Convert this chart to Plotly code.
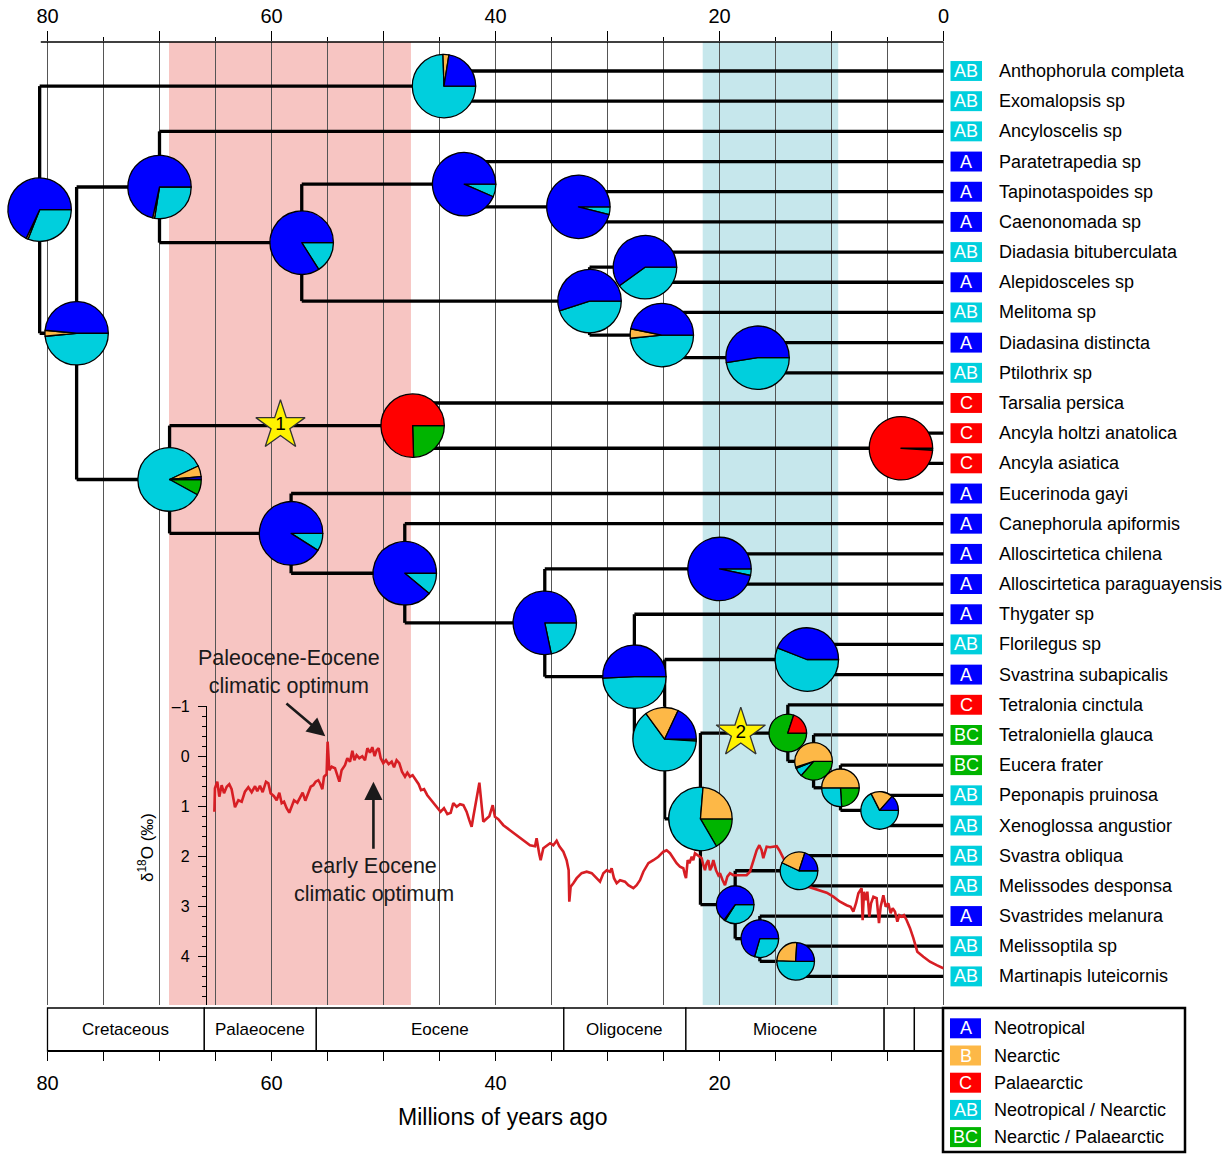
import plotly.graph_objects as go

# ---------------- data ----------------
taxa = ["Anthophorula completa", "Exomalopsis sp", "Ancyloscelis sp", "Paratetrapedia sp",
        "Tapinotaspoides sp", "Caenonomada sp", "Diadasia bituberculata", "Alepidosceles sp",
        "Melitoma sp", "Diadasina distincta", "Ptilothrix sp", "Tarsalia persica",
        "Ancyla holtzi anatolica", "Ancyla asiatica", "Eucerinoda gayi", "Canephorula apiformis",
        "Alloscirtetica chilena", "Alloscirtetica paraguayensis", "Thygater sp", "Florilegus sp",
        "Svastrina subapicalis", "Tetralonia cinctula", "Tetraloniella glauca", "Eucera frater",
        "Peponapis pruinosa", "Xenoglossa angustior", "Svastra obliqua", "Melissodes desponsa",
        "Svastrides melanura", "Melissoptila sp", "Martinapis luteicornis"]
tip_states = ["AB", "AB", "AB", "A", "A", "A", "AB", "A", "AB", "A", "AB", "C", "C", "C", "A", "A",
              "A", "A", "A", "AB", "A", "C", "BC", "BC", "AB", "AB", "AB", "AB", "A", "AB", "AB"]

node_ids = ["n1", "n2", "n3", "n4", "n5", "n6", "n7", "n8", "n9", "n10", "n11", "n13", "n14", "n15",
            "n16", "n17", "n18", "n19", "n20", "n21", "n22", "n23", "n24", "n25", "n26", "n27",
            "n28", "n29", "n30", "n31"]
node_ages = [80.7, 44.6, 77.4, 70.0, 57.3, 42.8, 32.6, 31.6, 26.65, 25.15, 16.6, 69.1, 47.4, 3.8,
             58.25, 48.1, 35.6, 20.0, 27.6, 24.9, 12.2, 21.7, 13.9, 11.6, 9.2, 5.7,
             18.6, 12.9, 16.4, 13.2]
node_children = [("n2", "n3"), ("t0", "t1"), ("n4", "n13"), ("t2", "n5"), ("n6", "n8"),
                 ("t3", "n7"), ("t4", "t5"), ("n9", "n10"), ("t6", "t7"), ("t8", "n11"),
                 ("t9", "t10"), ("n14", "n16"), ("t11", "n15"), ("t12", "t13"), ("t14", "n17"),
                 ("t15", "n18"), ("n19", "n20"), ("t16", "t17"), ("t18", "n21"), ("n22", "n23"),
                 ("t19", "t20"), ("n24", "n28"), ("t21", "n25"), ("t22", "n26"), ("t23", "n27"),
                 ("t24", "t25"), ("n29", "n30"), ("t26", "t27"), ("t28", "n31"), ("t29", "t30")]

# ancestral-area probabilities at each node (A, B, C, AB, BC)
pie_A = [0.68, 0.225, 0.485, 0.715, 0.84, 0.935, 0.96, 0.55, 0.60, 0.468, 0.525, 0.015, 0, 0,
         0.91, 0.89, 0.783, 0.967, 0.507, 0.18, 0.44, 0, 0, 0, 0, 0.135, 0.65, 0.20, 0.705, 0.24]
pie_B = [0.01, 0.03, 0.03, 0.01, 0, 0, 0, 0, 0, 0.048, 0, 0.055, 0, 0,
         0, 0, 0, 0, 0, 0.17, 0, 0.237, 0, 0.55, 0.50, 0.19, 0.01, 0.23, 0, 0.255]
pie_C = [0, 0, 0, 0, 0, 0, 0, 0, 0, 0, 0, 0, 0.755, 0.99,
         0, 0, 0, 0, 0, 0, 0, 0, 0.20, 0.01, 0, 0, 0, 0, 0, 0]
pie_AB = [0.31, 0.745, 0.485, 0.275, 0.16, 0.065, 0.04, 0.45, 0.40, 0.484, 0.475, 0.85, 0, 0,
          0.09, 0.11, 0.217, 0.033, 0.493, 0.64, 0.56, 0.597, 0, 0.075, 0.26, 0.675, 0.34, 0.57,
          0.295, 0.505]
pie_BC = [0, 0, 0, 0, 0, 0, 0, 0, 0, 0, 0, 0.08, 0.245, 0.01,
          0, 0, 0, 0, 0, 0.01, 0, 0.166, 0.80, 0.365, 0.24, 0, 0, 0, 0, 0]
small_pie_nodes = ["n24", "n25", "n26", "n27", "n28", "n29", "n30", "n31"]

area_codes = ["A", "B", "C", "AB", "BC"]
area_names = ["Neotropical", "Nearctic", "Palaearctic", "Neotropical / Nearctic", "Nearctic / Palaearctic"]
area_colors = ["#0000FF", "#FDB847", "#FF0000", "#00CFDD", "#00B400"]

star_nodes = ["n14", "n24"]        # star placed on the branch leading to these nodes
star_ages = [59.2, 18.1]
star_labels = ["1", "2"]

epoch_bounds = [80, 66, 56, 33.9, 23, 5.3, 2.6, 0]
epoch_names = ["Cretaceous", "Palaeocene", "Eocene", "Oligocene", "Miocene", "", ""]

pink_band = (69.15, 47.55)
blue_band = (21.5, 9.4)

d18o_age = [65.10, 65.05, 64.84, 64.66, 64.45, 64.24, 64.00, 63.77, 63.56, 63.26, 62.96, 62.66,
            62.37, 62.07, 61.77, 61.47, 61.27, 61.03, 60.79, 60.49, 60.28, 60.08, 59.78, 59.54,
            59.30, 59.09, 58.88, 58.65, 58.41, 58.20, 57.99, 57.69, 57.46, 57.22, 56.98, 56.71,
            56.50, 56.27, 56.06, 55.82, 55.67, 55.46, 55.31, 55.08, 54.99, 54.84, 54.63, 54.33,
            54.12, 53.94, 53.74, 53.44, 53.23, 52.99, 52.78, 52.60, 52.40, 52.16, 51.89, 51.65,
            51.44, 51.21, 51.00, 50.79, 50.61, 50.43, 50.25, 50.02, 49.78, 49.54, 49.27, 49.06,
            48.83, 48.59, 48.35, 48.08, 47.87, 47.63, 47.40, 47.16, 46.86, 46.65, 46.38, 46.09,
            45.79, 45.49, 45.19, 44.90, 44.60, 44.30, 44.00, 43.77, 43.47, 43.17, 42.87, 42.58,
            42.34, 42.13, 41.98, 41.74, 41.44, 41.24, 41.09, 40.85, 40.55, 40.25, 40.05, 39.75,
            39.30, 38.71, 38.11, 37.52, 36.92, 36.47, 36.33, 36.09, 35.97, 35.73, 35.43, 35.13,
            34.84, 34.54, 34.30, 33.94, 33.65, 33.47, 33.41,
            33.29, 33.05, 32.75, 32.31, 31.86, 31.41, 30.97, 30.67, 30.37, 30.07, 29.78, 29.63,
            29.42, 29.18, 28.88, 28.44, 28.14, 27.69, 27.40, 27.10, 26.80, 26.35, 25.91, 25.46,
            25.01, 24.72, 24.42, 24.12, 23.83, 23.53, 23.23, 23.08, 22.99, 22.84, 22.69, 22.48,
            22.34, 22.19, 21.98, 21.80, 21.59, 21.44, 21.30, 21.15, 21.00, 20.85, 20.70, 20.55,
            20.31, 20.10, 19.96, 19.72, 19.51, 19.30, 19.06, 18.77, 18.17, 17.58, 17.28, 16.98,
            16.68, 16.44, 16.24, 16.09, 15.79, 15.49, 15.19, 14.89, 14.66, 14.45, 14.15, 13.85,
            13.41, 12.81, 12.22, 11.62, 11.03, 10.43, 9.84, 9.24, 8.65, 8.29, 8.05, 7.81,
            7.60, 7.46, 7.31, 7.22, 7.10, 6.92, 6.80, 6.62, 6.47, 6.26, 5.97, 5.76,
            5.61, 5.37, 5.16, 4.93, 4.72, 4.54, 4.33, 4.12, 3.94, 3.74, 3.53, 3.29,
            2.99, 2.69, 2.34, 1.80, 1.21, 0.61, 0.02]
d18o_val = [1.10, 0.63, 0.50, 0.80, 0.57, 0.73, 0.60, 0.55, 0.65, 1.01, 0.87, 0.90,
            0.70, 0.61, 0.71, 0.59, 0.69, 0.58, 0.71, 0.50, 0.53, 0.73, 0.79, 0.87,
            0.72, 0.93, 0.90, 1.03, 1.12, 0.99, 0.87, 0.92, 0.83, 0.72, 0.88, 0.73,
            0.60, 0.57, 0.50, 0.47, 0.53, 0.65, 0.40, 0.35, -0.30, 0.27, 0.20, 0.23,
            0.37, 0.50, 0.27, 0.17, 0.03, 0.10, -0.12, 0.07, -0.03, 0.03, -0.01, 0.07,
            -0.17, -0.08, -0.19, -0.01, -0.13, -0.17, 0.03, 0.13, 0.07, 0.15, 0.10, 0.21,
            0.07, 0.13, 0.30, 0.40, 0.32, 0.40, 0.37, 0.45, 0.55, 0.67, 0.65, 0.77,
            0.85, 0.95, 1.03, 1.10, 1.03, 1.15, 1.12, 0.93, 1.00, 0.95, 0.97, 1.10,
            1.27, 1.40, 1.20, 0.93, 0.52, 0.97, 1.30, 1.25, 1.19, 0.97, 1.20, 1.25,
            1.37, 1.47, 1.57, 1.67, 1.77, 1.79, 1.63, 1.95, 2.07, 1.83, 1.77, 1.73,
            1.77, 1.68, 1.79, 1.90, 2.07, 2.27, 2.90,
            2.60, 2.53, 2.43, 2.33, 2.30, 2.33, 2.43, 2.50, 2.33, 2.27, 2.30, 2.23,
            2.43, 2.53, 2.47, 2.50, 2.57, 2.63, 2.57, 2.47, 2.30, 2.13, 2.07, 2.00,
            1.90, 1.87, 1.93, 2.03, 2.13, 2.20, 2.23, 2.37, 2.43, 2.07, 2.13, 2.00,
            2.07, 1.93, 1.97, 2.00, 2.03, 2.17, 2.27, 2.13, 2.07, 2.27, 2.20, 2.07,
            2.27, 2.37, 2.33, 2.47, 2.57, 2.40, 2.33, 2.37, 2.37, 2.37, 2.30, 2.07,
            1.87, 1.77, 1.87, 2.03, 1.80, 1.81, 1.80, 1.79, 1.87, 1.97, 2.10, 2.23,
            2.37, 2.50, 2.59, 2.63, 2.67, 2.72, 2.80, 2.90, 2.97, 3.00, 3.10, 2.93,
            2.73, 2.67, 2.63, 3.27, 2.70, 2.87, 2.70, 3.20, 2.93, 2.80, 2.83, 3.33,
            3.00, 2.77, 3.00, 2.93, 3.13, 3.03, 3.10, 3.30, 3.17, 3.20, 3.17, 3.27,
            3.43, 3.63, 3.90, 4.00, 4.10, 4.17, 4.23]

# ---------------- layout geometry ----------------
W, H = 1228, 1155
FONT = "Liberation Sans, Arial, sans-serif"
PX_PER_MA = 11.2          # horizontal scale
AGE0_PX = 943.5           # pixel of age 0
TIP0_PX = 71.0            # pixel of first tip
PX_PER_TIP = 30.18
PLOT_TOP_PX, PLOT_BOT_PX = 42, 1005
D18O_TOP_PX = 706
D18O_PX_PER_UNIT = 50.0
D18O_ZERO_PX = 756.7

x_range = [AGE0_PX / PX_PER_MA, (AGE0_PX - W) / PX_PER_MA]
y_range = [(PLOT_BOT_PX - TIP0_PX) / PX_PER_TIP, (PLOT_TOP_PX - TIP0_PX) / PX_PER_TIP]
y_domain = [1 - PLOT_BOT_PX / H, 1 - PLOT_TOP_PX / H]
y2_range = [(PLOT_BOT_PX - D18O_ZERO_PX) / D18O_PX_PER_UNIT, (D18O_TOP_PX - D18O_ZERO_PX) / D18O_PX_PER_UNIT]
y2_domain = [1 - PLOT_BOT_PX / H, 1 - D18O_TOP_PX / H]


def paper_x(age):
    return (x_range[0] - age) / (x_range[0] - x_range[1])


def paper_y(idx):
    return y_domain[0] + (y_range[0] - idx) / (y_range[0] - y_range[1]) * (y_domain[1] - y_domain[0])


def ppx(px):
    return px / W


def ppy(py):
    return 1 - py / H


color_of = dict(zip(area_codes, area_colors))
age_of = dict(zip(node_ids, node_ages))
children_of = dict(zip(node_ids, node_children))
for i in range(len(taxa)):
    age_of["t%d" % i] = 0.0

ypos = {}


def get_y(nid):
    if nid in ypos:
        return ypos[nid]
    if nid.startswith("t"):
        ypos[nid] = float(nid[1:])
    else:
        a, b = children_of[nid]
        ypos[nid] = (get_y(a) + get_y(b)) / 2
    return ypos[nid]


for nid in node_ids:
    get_y(nid)

fig = go.Figure()

# δ18O curve (own y axis with its own domain)
fig.add_trace(go.Scatter(x=d18o_age, y=d18o_val, xaxis="x", yaxis="y2", mode="lines",
                         line=dict(color="#D71E24", width=2.6), hoverinfo="skip", showlegend=False,
                         cliponaxis=False))

# tree branches
tx, ty = [], []
for nid in node_ids:
    a, b = children_of[nid]
    age = age_of[nid]
    tx += [age, age, None]
    ty += [get_y(a), get_y(b), None]
    for c in (a, b):
        tx += [age, age_of[c], None]
        ty += [get_y(c), get_y(c), None]
fig.add_trace(go.Scatter(x=tx, y=ty, mode="lines", line=dict(color="black", width=3.3),
                         hoverinfo="skip", showlegend=False))

# stars
fig.add_trace(go.Scatter(x=star_ages, y=[get_y(n) for n in star_nodes], mode="markers+text",
                         text=star_labels, textposition="middle center",
                         textfont=dict(family=FONT, size=19, color="black"),
                         marker=dict(symbol="star", size=37, color="#FFF200",
                                     line=dict(color="#333333", width=1.3)),
                         hoverinfo="skip", showlegend=False))

# dummy trace for bottom axis
fig.add_trace(go.Scatter(x=[40], y=[None], xaxis="x2", yaxis="y", mode="markers",
                         hoverinfo="skip", showlegend=False))

# pies (ordered so that, starting at 3 o'clock, A,B,C,AB,BC run counter-clockwise)
for k, nid in enumerate(node_ids):
    fr = [pie_A[k], pie_B[k], pie_C[k], pie_AB[k], pie_BC[k]]
    order = [4, 3, 2, 1, 0]
    vals = [fr[j] for j in order if fr[j] > 0]
    cols = [area_colors[j] for j in order if fr[j] > 0]
    labs = [area_codes[j] for j in order if fr[j] > 0]
    r = 18.8 if nid in small_pie_nodes else 31.7
    cx = paper_x(age_of[nid])
    cy = paper_y(get_y(nid))
    fig.add_trace(go.Pie(values=vals, labels=labs, marker=dict(colors=cols, line=dict(color="black", width=1.3)),
                         sort=False, direction="clockwise", rotation=90, textinfo="none",
                         hoverinfo="skip", showlegend=False,
                         domain=dict(x=[cx - r / W, cx + r / W], y=[cy - r / H, cy + r / H])))

shapes = []
# shading bands
for band, col in ((pink_band, "#F7C5C2"), (blue_band, "#C6E7EC")):
    shapes.append(dict(type="rect", xref="x", yref="y domain", x0=band[0], x1=band[1], y0=0, y1=1,
                       fillcolor=col, line=dict(width=0), layer="below"))
# top axis line
shapes.append(dict(type="line", xref="x", yref="paper", x0=80.6, x1=0, y0=y_domain[1], y1=y_domain[1],
                   line=dict(color="black", width=1.5), layer="above"))

annotations = []


def note(**kw):
    kw.setdefault("xanchor", "center")
    kw.setdefault("yanchor", "middle")
    kw.setdefault("showarrow", False)
    annotations.append(kw)


# epoch bar
EP_TOP, EP_BOT = 1008, 1051
for i, name in enumerate(epoch_names):
    shapes.append(dict(type="rect", xref="x", yref="paper", x0=epoch_bounds[i], x1=epoch_bounds[i + 1],
                       y0=ppy(EP_BOT), y1=ppy(EP_TOP), fillcolor="white",
                       line=dict(color="black", width=1.3), layer="above"))
    if name:
        note(x=(epoch_bounds[i] + epoch_bounds[i + 1]) / 2, y=ppy((EP_TOP + EP_BOT) / 2),
             xref="x", yref="paper", text=name, font=dict(family=FONT, size=17, color="black"))
shapes.append(dict(type="line", xref="x", yref="paper", x0=80, x1=0, y0=ppy(EP_BOT), y1=ppy(EP_BOT),
                   line=dict(color="black", width=2.2), layer="above"))

# tip labels
BOX_L, BOX_R = (AGE0_PX - 950.5) / PX_PER_MA, (AGE0_PX - 982) / PX_PER_MA
NAME_X = (AGE0_PX - 997) / PX_PER_MA
for i, (name, st) in enumerate(zip(taxa, tip_states)):
    shapes.append(dict(type="rect", xref="x", yref="y", x0=BOX_L, x1=BOX_R, y0=i - 0.33, y1=i + 0.33,
                       fillcolor=color_of[st], line=dict(width=0), layer="above"))
    note(x=(BOX_L + BOX_R) / 2, y=i, xref="x", yref="y", text=st,
         font=dict(family=FONT, size=18, color="white"))
    note(x=NAME_X, y=i, xref="x", yref="y", text=name, xanchor="left",
         font=dict(family=FONT, size=18, color="black"))

# legend box
shapes.append(dict(type="rect", xref="paper", yref="paper", x0=ppx(943), x1=ppx(1185), y0=ppy(1152),
                   y1=ppy(1008), fillcolor="white", line=dict(color="black", width=2.5), layer="above"))
for j, (code, nm, col) in enumerate(zip(area_codes, area_names, area_colors)):
    yc = 1028.3 + 27.2 * j
    shapes.append(dict(type="rect", xref="paper", yref="paper", x0=ppx(950), x1=ppx(981),
                       y0=ppy(yc + 10), y1=ppy(yc - 10), fillcolor=col, line=dict(width=0), layer="above"))
    note(x=ppx(965.5), y=ppy(yc), xref="paper", yref="paper", text=code,
         font=dict(family=FONT, size=18, color="white"))
    note(x=ppx(992), y=ppy(yc), xref="paper", yref="paper", text=nm, xanchor="left",
         font=dict(family=FONT, size=18, color="black"))

# axis title
note(x=39.3, y=ppy(1117), xref="x", yref="paper", text="Millions of years ago",
     font=dict(family=FONT, size=23, color="black"))
# δ18O title
note(x=ppx(146), y=ppy(848), xref="paper", yref="paper", text="δ<sup>18</sup>O (‰)",
     textangle=-90, font=dict(family=FONT, size=17, color="black"))
# climate annotations
note(x=(AGE0_PX - 289) / PX_PER_MA, y=ppy(672), xref="x", yref="paper",
     text="Paleocene-Eocene<br>climatic optimum", font=dict(family=FONT, size=21.5, color="#1a1a1a"))
note(x=55.2, y=-0.41, xref="x", yref="y2", ax=58.8, ay=-1.09, axref="x", ayref="y2",
     text="", showarrow=True, arrowhead=2, arrowsize=1.4, arrowwidth=2.6, arrowcolor="#1a1a1a")
note(x=(AGE0_PX - 374) / PX_PER_MA, y=2.47, xref="x", yref="y2",
     text="early Eocene<br>climatic optimum", font=dict(family=FONT, size=21.5, color="#1a1a1a"))
note(x=50.9, y=0.50, xref="x", yref="y2", ax=50.9, ay=1.87, axref="x", ayref="y2",
     text="", showarrow=True, arrowhead=2, arrowsize=1.4, arrowwidth=2.6, arrowcolor="#1a1a1a")

major = list(range(80, -1, -10))
minor = list(range(75, 0, -10))
GRID = "#555555"
fig.update_layout(
    width=W, height=H, margin=dict(l=0, r=0, t=0, b=0, pad=0), autosize=False,
    paper_bgcolor="white", plot_bgcolor="rgba(0,0,0,0)",
    font=dict(family=FONT, color="black"),
    showlegend=False,
    xaxis=dict(range=x_range, domain=[0, 1], side="top", anchor="y", automargin=False,
               tickvals=major, ticktext=[str(v) if v % 20 == 0 else "" for v in major],
               ticks="outside", ticklen=10, tickwidth=1.3, tickcolor="black",
               tickfont=dict(family=FONT, size=20, color="black"),
               showgrid=True, gridcolor=GRID, gridwidth=1.1, zeroline=False, showline=False,
               minor=dict(tickvals=minor, ticks="outside", ticklen=4, tickwidth=1.3, tickcolor="black",
                          showgrid=True, gridcolor=GRID, gridwidth=1.1)),
    xaxis2=dict(range=x_range, overlaying="x", anchor="free", position=ppy(EP_BOT), side="bottom",
                automargin=False,
                tickvals=list(range(80, 4, -5)),
                ticktext=[str(v) if v % 20 == 0 else "" for v in range(80, 4, -5)],
                ticks="outside", ticklen=9, tickwidth=1.3, tickcolor="black", ticklabelstandoff=5,
                tickfont=dict(family=FONT, size=20, color="black"),
                showgrid=False, zeroline=False, showline=False),
    yaxis=dict(range=y_range, domain=y_domain, visible=False, showgrid=False, zeroline=False,
               automargin=False),
    yaxis2=dict(range=y2_range, domain=y2_domain, anchor="free", position=ppx(206), automargin=False,
                side="left", tickvals=[-1, 0, 1, 2, 3, 4], ticktext=["–1", "0", "1", "2", "3", "4"],
                ticks="outside", ticklen=8, tickwidth=1.2, tickcolor="black", ticklabelstandoff=5,
                tickfont=dict(family=FONT, size=16, color="black"),
                showline=True, linecolor="black", linewidth=1.3, showgrid=False, zeroline=False,
                minor=dict(dtick=0.2, ticks="outside", ticklen=4, tickwidth=1.0, tickcolor="black",
                           showgrid=False)),
    shapes=shapes,
    annotations=annotations,
)

fig.write_html("out.html", post_script="document.body.style.margin='0';",
               config={"displayModeBar": False})
